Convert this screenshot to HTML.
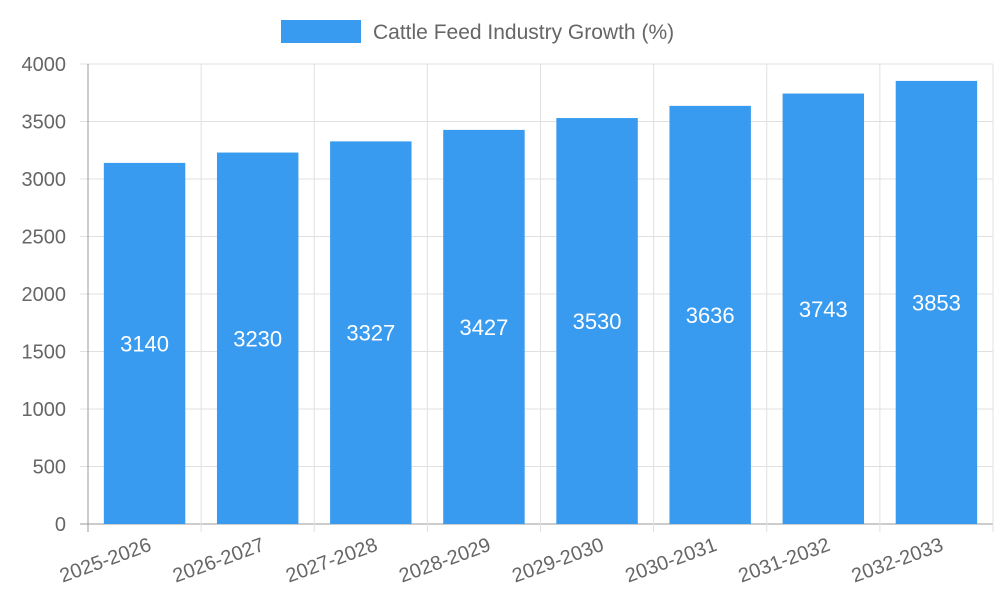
<!DOCTYPE html>
<html><head><meta charset="utf-8"><style>
body{margin:0;background:#fff;font-family:"Liberation Sans",sans-serif}
svg text{font-family:"Liberation Sans",sans-serif}
</style></head><body>
<svg id="chart" width="1000" height="600" xmlns="http://www.w3.org/2000/svg">
<g>
<rect x="281" y="20" width="80" height="23" fill="#389bf0"/>
<text x="373" y="39" font-size="21" fill="#666">Cattle Feed Industry Growth (%)</text>
</g>
<g id="grid"></g><g id="bars"></g><g id="axes"></g>
</svg>
<script>
const categories=["2025-2026","2026-2027","2027-2028","2028-2029","2029-2030","2030-2031","2031-2032","2032-2033"];
const values=[3140,3230,3327,3427,3530,3636,3743,3853];
const yTicks=[0,500,1000,1500,2000,2500,3000,3500,4000];
const L=88,R=993,T=64,B=524,yMax=4000;
const ns="http://www.w3.org/2000/svg";
const bw=(R-L)/categories.length;
const y=v=>B-(B-T)*v/yMax;
const x=i=>L+bw*i;
function mk(tag,attrs,parent,txt){const e=document.createElementNS(ns,tag);for(const k in attrs)e.setAttribute(k,attrs[k]);if(txt!==undefined)e.textContent=txt;document.getElementById(parent).appendChild(e);return e;}
yTicks.forEach(t=>{
 const g=mk('line',{x1:80,x2:R,y1:y(t),y2:y(t),stroke:t===0?'#999':'#e0e0e0','stroke-width':1},'grid');
 
 
 const lb=mk('text',{x:66,y:y(t)+7,'text-anchor':'end','font-size':20,fill:'#666'},'axes',String(t));
 
 
});
for(let i=0;i<=categories.length;i++){
 const g=mk('line',{x1:x(i),x2:x(i),y1:T,y2:B+8,stroke:i===0?'#999':'#e0e0e0','stroke-width':1},'grid');
 
 
}
categories.forEach((c,i)=>{
 const w=bw*0.72,cx=x(i)+bw/2;
 const r=mk('rect',{x:cx-w/2,y:y(values[i]),width:w,height:B-y(values[i]),fill:'#389bf0'},'bars');
 
 
 const v=mk('text',{x:cx,y:(y(values[i])+B)/2+8,'text-anchor':'middle','font-size':22,fill:'#fff'},'bars',String(values[i]));
 
 
 const tx=x(i)+bw/2+8,ty=B+26;
 const lb=mk('text',{x:tx,y:ty,'text-anchor':'end','font-size':20,fill:'#666',transform:`rotate(-20 ${tx} ${ty})`},'axes',c);
 
 
});
</script>
</body></html>
